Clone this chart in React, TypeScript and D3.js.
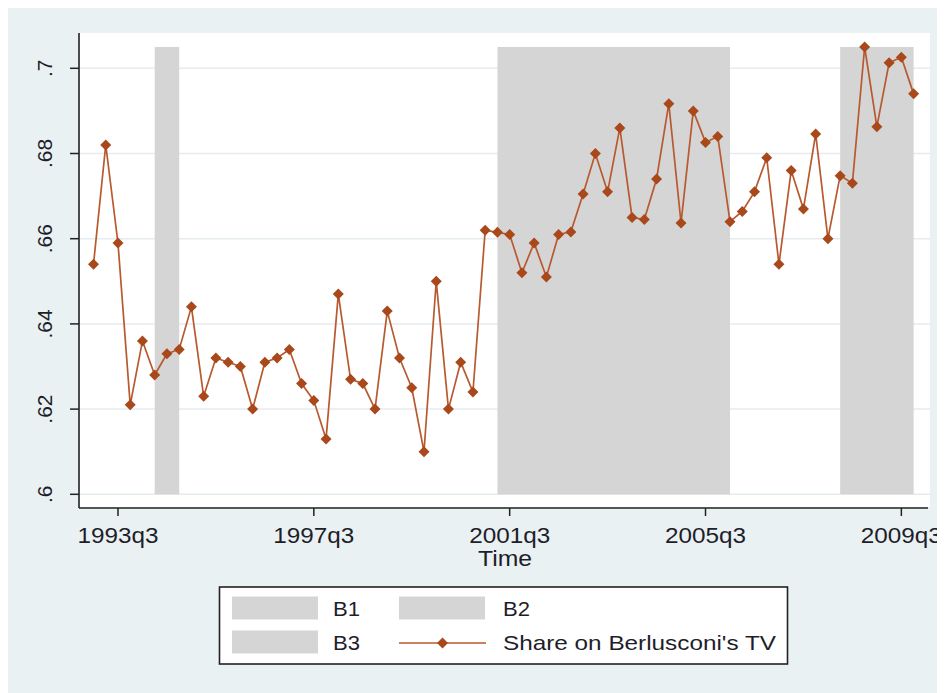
import * as d3 from "d3";

// quarterly share, 1993q1 .. 2009q4
const START_YEAR = 1993;
const shareValues = [
  0.654, 0.682, 0.659, 0.621, 0.636, 0.628, 0.633, 0.634,
  0.644, 0.623, 0.632, 0.631, 0.63, 0.62, 0.631, 0.632,
  0.634, 0.626, 0.622, 0.613, 0.647, 0.627, 0.626, 0.62,
  0.643, 0.632, 0.625, 0.61, 0.65, 0.62, 0.631, 0.624,
  0.662, 0.6615, 0.661, 0.652, 0.659, 0.651, 0.661, 0.6616,
  0.6705, 0.68, 0.671, 0.686, 0.665, 0.6645, 0.674, 0.6917,
  0.6637, 0.69, 0.6826, 0.684, 0.664, 0.6664, 0.671, 0.679,
  0.654, 0.676, 0.667, 0.6846, 0.66, 0.6748, 0.673, 0.705,
  0.6863, 0.7013, 0.7026, 0.694,
];

const xTickLabels = ["1993q3", "1997q3", "2001q3", "2005q3", "2009q3"];
const yTicks = [0.6, 0.62, 0.64, 0.66, 0.68, 0.7];
const yTickLabels = [".6", ".62", ".64", ".66", ".68", ".7"];

const periodNames = ["B1", "B2", "B3"];
const periodStart = ["1994q2", "2001q2", "2008q2"];
const periodEnd = ["1994q4", "2006q1", "2009q4"];
const periodTop = 0.705;

const legendLabels = ["B1", "B2", "B3", "Share on Berlusconi's TV"];

const FONT = "Liberation Sans, Arial, sans-serif";
const TEXT = "#1e1e2a";
const LINE = "#b8592f";
const MARKER = "#a8481b";
const SHADE = "#d5d5d5";
const BG = "#eaf1f3";
const GRID = "#e4ecef";

const PLOT = { left: 80, right: 930, top: 33, bottom: 507 };

const quarters = shareValues.map(
  (_, i) => `${START_YEAR + Math.floor(i / 4)}q${(i % 4) + 1}`
);
const qi = (q: string) => quarters.indexOf(q);

const diamond = (r: number) => `M0,${-r}L${r},0L0,${r}L${-r},0Z`;

export default function App() {
  const x = d3
    .scaleLinear()
    .domain([0, quarters.length - 1])
    .range([93.5, 913.6]);
  const y = d3.scaleLinear().domain([0.6, 0.7]).range([494.3, 68.3]);

  const line = d3
    .line<number>()
    .x((_, i) => x(i))
    .y((d) => y(d));

  // legend layout
  const legendRows = [608, 642];
  const legendSwatchX = [232, 399];
  const legendTextX = [333, 503];

  return (
    <svg width={937} height={685} style={{ display: "block" }}>
      <g transform="translate(-8,-8)" fontFamily={FONT}>
        <rect x={8} y={7} width={937} height={686} fill={BG} />
        <rect
          x={PLOT.left}
          y={PLOT.top}
          width={PLOT.right - PLOT.left}
          height={PLOT.bottom - PLOT.top}
          fill="#fff"
        />

        {/* grid */}
        {yTicks.map((t, i) => (
          <line
            key={i}
            x1={PLOT.left}
            x2={PLOT.right}
            y1={y(t)}
            y2={y(t)}
            stroke={GRID}
            strokeWidth={1.5}
          />
        ))}

        {/* shaded periods */}
        {periodNames.map((name, i) => (
          <rect
            key={name}
            x={x(qi(periodStart[i]))}
            width={x(qi(periodEnd[i])) - x(qi(periodStart[i]))}
            y={y(periodTop)}
            height={y(0.6) - y(periodTop)}
            fill={SHADE}
          />
        ))}

        <path
          d={line(shareValues) || ""}
          fill="none"
          stroke={LINE}
          strokeWidth={1.7}
        />
        {shareValues.map((d, i) => (
          <path
            key={i}
            d={diamond(5.5)}
            transform={`translate(${x(i)},${y(d)})`}
            fill={MARKER}
          />
        ))}

        {/* y axis */}
        <line
          x1={79}
          x2={79}
          y1={PLOT.top}
          y2={PLOT.bottom + 1}
          stroke="#222"
          strokeWidth={1.6}
        />
        {yTicks.map((t, i) => (
          <g key={i}>
            <line x1={70} x2={79} y1={y(t)} y2={y(t)} stroke="#222" strokeWidth={1.5} />
            <text
              transform={`translate(52,${y(t)}) rotate(-90)`}
              textAnchor="middle"
              fontSize={21}
              fill={TEXT}
            >
              {yTickLabels[i]}
            </text>
          </g>
        ))}

        {/* x axis */}
        <line
          x1={79}
          x2={PLOT.right - 2}
          y1={508}
          y2={508}
          stroke="#222"
          strokeWidth={1.6}
        />
        {xTickLabels.map((q) => (
          <g key={q}>
            <line
              x1={x(qi(q))}
              x2={x(qi(q))}
              y1={508}
              y2={516}
              stroke="#222"
              strokeWidth={1.5}
            />
            <text
              x={x(qi(q)) - 40.5}
              y={542.5}
              fontSize={22}
              fill={TEXT}
              textLength={81}
              lengthAdjust="spacingAndGlyphs"
            >
              {q}
            </text>
          </g>
        ))}
        <text
          x={(PLOT.left + PLOT.right) / 2 - 27}
          y={565.5}
          fontSize={21.5}
          fill={TEXT}
          textLength={54}
          lengthAdjust="spacingAndGlyphs"
        >
          Time
        </text>

        {/* legend */}
        <rect
          x={219.5}
          y={587}
          width={568}
          height={77}
          fill="#fff"
          stroke="#222"
          strokeWidth={1.6}
        />
        {legendLabels.map((label, i) => {
          const row = Math.floor(i / 2);
          const col = i % 2;
          const cy = legendRows[row];
          const sx = legendSwatchX[col];
          const isLine = i === 3;
          return (
            <g key={label}>
              {isLine ? (
                <>
                  <line
                    x1={sx}
                    x2={sx + 87}
                    y1={cy + 1}
                    y2={cy + 1}
                    stroke={LINE}
                    strokeWidth={1.7}
                  />
                  <path
                    d={diamond(5.5)}
                    transform={`translate(${sx + 43.5},${cy + 1})`}
                    fill={MARKER}
                  />
                </>
              ) : (
                <rect x={sx} y={cy - 11.5} width={86} height={23} fill={SHADE} />
              )}
              <text
                x={legendTextX[col]}
                y={cy + 8}
                fontSize={21}
                fill={TEXT}
                textLength={isLine ? 273 : 27}
                lengthAdjust="spacingAndGlyphs"
              >
                {label}
              </text>
            </g>
          );
        })}
      </g>
    </svg>
  );
}
